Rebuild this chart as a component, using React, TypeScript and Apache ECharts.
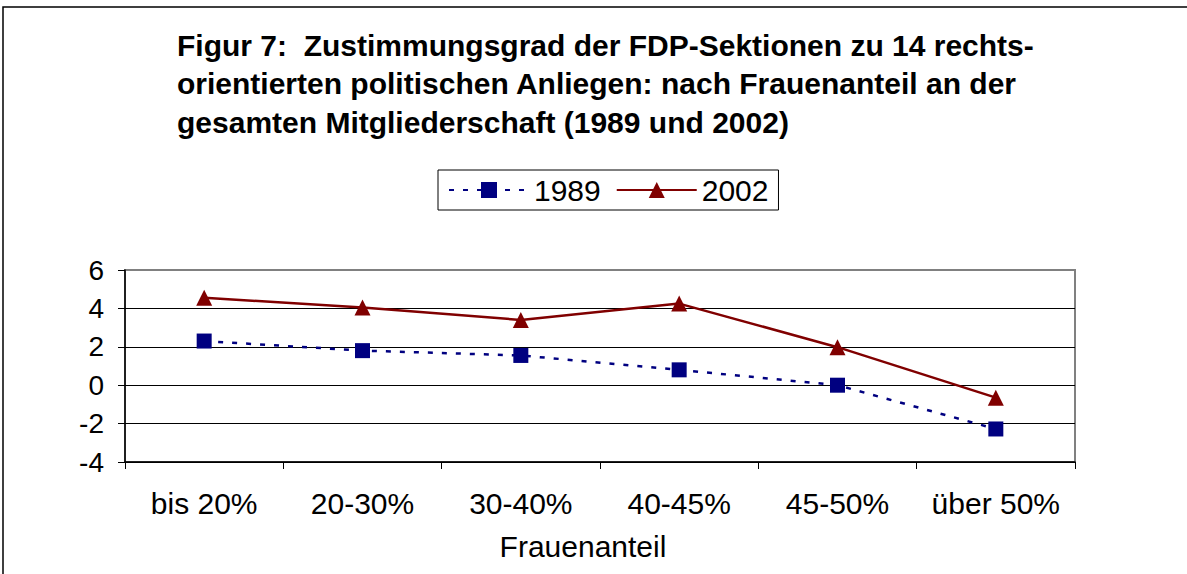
import React, { useEffect, useRef } from "react";
import * as echarts from "echarts";

const categories = ["bis 20%", "20-30%", "30-40%", "40-45%", "45-50%", "über 50%"];
const series1989 = [2.3, 1.8, 1.55, 0.8, 0.0, -2.28];
const series2002 = [4.55, 4.05, 3.4, 4.25, 1.98, -0.65];
const yTicks = { min: -4, max: 6, interval: 2 };
const titleText =
  "Figur 7:  Zustimmungsgrad der FDP-Sektionen zu 14 rechts-\norientierten politischen Anliegen: nach Frauenanteil an der\ngesamten Mitgliederschaft (1989 und 2002)";
const xAxisTitle = "Frauenanteil";

const FONT = "'Liberation Sans', Arial, sans-serif";

export default function App() {
  const ref = useRef<HTMLDivElement>(null);
  useEffect(() => {
    if (!ref.current) return;
    const chart = echarts.init(ref.current, undefined, { renderer: "svg" });
    chart.setOption({
      animation: false,
      backgroundColor: "#ffffff",
      textStyle: { fontFamily: FONT, color: "#000" },
      title: {
        text: titleText,
        left: 177,
        top: 26,
        padding: 0,
        textStyle: {
          fontFamily: FONT,
          fontSize: 30,
          fontWeight: "bold",
          lineHeight: 38.5,
          color: "#000",
        },
      },
      legend: {
        left: 438,
        top: 170,
        padding: [5, 10, 5, 10],
        borderColor: "#000",
        borderWidth: 1,
        itemWidth: 80,
        itemHeight: 20,
        itemGap: 15,
        textStyle: { fontFamily: FONT, fontSize: 30, color: "#000" },
        data: ["1989", "2002"],
      },
      grid: {
        left: 125,
        right: 112,
        top: 270,
        bottom: 112,
        show: true,
        borderColor: "#808080",
        borderWidth: 2,
      },
      xAxis: {
        type: "category",
        data: categories,
        boundaryGap: true,
        axisLine: { onZero: false, lineStyle: { color: "#000", width: 1.5 } },
        axisTick: { show: true, interval: 0, length: 7, lineStyle: { color: "#000" } },
        axisLabel: { interval: 0, fontSize: 30, color: "#000", fontFamily: FONT, margin: 26 },
      },
      yAxis: {
        type: "value",
        min: yTicks.min,
        max: yTicks.max,
        interval: yTicks.interval,
        axisLine: { show: true, lineStyle: { color: "#000", width: 1.5 } },
        axisTick: { show: true, length: 7, lineStyle: { color: "#000" } },
        axisLabel: { fontSize: 28, color: "#000", fontFamily: FONT, margin: 21 },
        splitLine: {
          show: true,
          lineStyle: { color: ["#000", "#000", "#000", "#000", "#000", "#808080"], width: 1 },
        },
      },
      graphic: [
        {
          type: "rect",
          shape: { x: 3, y: 7, width: 1400, height: 800 },
          style: { fill: "none", stroke: "#000", lineWidth: 1.5 },
          silent: true,
        },
        {
          type: "text",
          x: 583,
          y: 546,
          style: {
            text: xAxisTitle,
            fontFamily: FONT,
            fontSize: 30,
            fill: "#000",
            align: "center",
            verticalAlign: "middle",
          },
        },
      ],
      series: [
        {
          name: "1989",
          type: "line",
          data: series1989,
          symbol: "rect",
          symbolSize: 15,
          itemStyle: { color: "#000080" },
          lineStyle: { color: "#000080", width: 2.5, type: [5, 9] },
        },
        {
          name: "2002",
          type: "line",
          data: series2002,
          symbol: "triangle",
          symbolSize: 16,
          itemStyle: { color: "#800000" },
          lineStyle: { color: "#800000", width: 2.5, type: "solid" },
        },
      ],
    });
    return () => chart.dispose();
  }, []);
  return (
    <div
      ref={ref}
      style={{ position: "absolute", left: 0, top: 0, width: 1187, height: 574 }}
    />
  );
}
